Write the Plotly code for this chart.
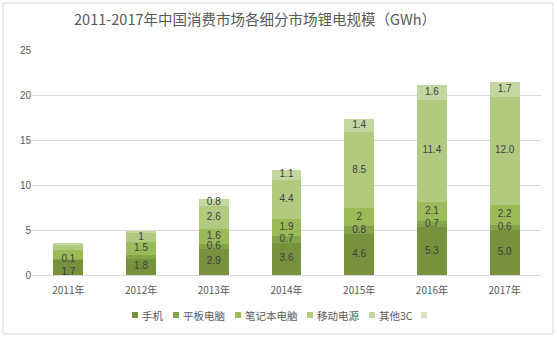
import plotly.graph_objects as go

years = ["2011年", "2012年", "2013年", "2014年", "2015年", "2016年", "2017年"]
series_names = ["手机", "平板电脑", "笔记本电脑", "移动电源", "其他3C", ""]
phone = [1.7, 1.8, 2.9, 3.6, 4.6, 5.3, 5.0]
tablet = [0.1, 0.4, 0.6, 0.7, 0.8, 0.7, 0.6]
laptop = [1.0, 1.5, 1.6, 1.9, 2.0, 2.1, 2.2]
power = [0.5, 1.0, 2.6, 4.4, 8.5, 11.4, 12.0]
other = [0.3, 0.1, 0.8, 1.1, 1.4, 1.6, 1.7]
blank = [0, 0, 0, 0, 0, 0, 0]
phone_lbl = ["1.7", "1.8", "2.9", "3.6", "4.6", "5.3", "5.0"]
tablet_lbl = ["0.1", "", "0.6", "0.7", "0.8", "0.7", "0.6"]
laptop_lbl = ["", "1.5", "1.6", "1.9", "2", "2.1", "2.2"]
power_lbl = ["", "1", "2.6", "4.4", "8.5", "11.4", "12.0"]
other_lbl = ["", "", "0.8", "1.1", "1.4", "1.6", "1.7"]
blank_lbl = [""] * 7

colors = ["#76923C", "#84A44A", "#9BBB59", "#B0CA80", "#C4D7A0", "#D7E4BD"]
values = [phone, tablet, laptop, power, other, blank]
labels = [phone_lbl, tablet_lbl, laptop_lbl, power_lbl, other_lbl, blank_lbl]

FONT = "Noto Sans CJK SC"
NUMFONT = "Liberation Sans"
W, H = 557, 340
L, R, T, B = 32, 16, 50, 65
PW, PH = W - L - R, H - T - B


def px(x):
    return (x - L) / PW


def py(y):
    return (H - B - y) / PH


fig = go.Figure()
for name, vals, col in zip(series_names, values, colors):
    fig.add_trace(go.Bar(
        x=years, y=vals, name=name if name else " ", marker_color=col, marker_line_width=0,
        hoverinfo="x+y+name", showlegend=False,
    ))

# segment labels drawn on top of all bars, at each segment's centre
base = [0.0] * len(years)
for i, (vals, lbl) in enumerate(zip(values, labels)):
    centers = [b + v / 2 for b, v in zip(base, vals)]
    if i == 0:
        centers[0] = vals[0] * 0.18  # 2011 phone label sits low in the reference
    fig.add_trace(go.Scatter(
        x=years, y=centers, mode="text", text=lbl, textposition="middle center",
        textfont=dict(color="#404040", size=10, family=NUMFONT),
        hoverinfo="skip", showlegend=False,
    ))
    base = [b + v for b, v in zip(base, vals)]

# legend drawn as small squares + text, matching the compact reference legend
legend_x = [132, 173, 235, 307, 369, 421]
legend_y = 315
shapes = [dict(type="rect", xref="paper", yref="paper",
               x0=px(3), x1=px(553), y0=py(334), y1=py(3),
               line=dict(color="#D9D9D9", width=1), layer="below")]
annotations = []
for name, col, lx in zip(series_names, colors, legend_x):
    shapes.append(dict(type="rect", xref="paper", yref="paper",
                       x0=px(lx), x1=px(lx + 6), y0=py(legend_y + 3), y1=py(legend_y - 3),
                       fillcolor=col, line=dict(width=0)))
    if name:
        annotations.append(dict(text=name, xref="paper", yref="paper",
                                x=px(lx + 8), y=py(legend_y), xanchor="left", yanchor="middle",
                                showarrow=False, font=dict(size=10.5, color="#595959", family=FONT)))

fig.update_layout(
    barmode="stack", bargap=0.59,
    width=W, height=H,
    margin=dict(l=L, r=R, t=T, b=B),
    paper_bgcolor="white", plot_bgcolor="white",
    font=dict(family=FONT, color="#595959", size=10),
    showlegend=False,
    title=dict(text="2011-2017年中国消费市场各细分市场锂电规模（GWh）",
               x=255 / W, xanchor="center", y=1 - 20 / H, yanchor="middle",
               font=dict(size=14.5, color="#595959", family=FONT)),
    xaxis=dict(showgrid=False, showline=True, linecolor="#D9D9D9", ticks="",
               ticklabelstandoff=6, tickfont=dict(size=10, color="#595959")),
    yaxis=dict(range=[0, 25], dtick=5, showgrid=True, gridcolor="#D9D9D9",
               zeroline=False, showline=False, ticks="",
               tickfont=dict(size=10, color="#595959", family=NUMFONT)),
    shapes=shapes,
    annotations=annotations,
)

fig.write_html("out.html")
